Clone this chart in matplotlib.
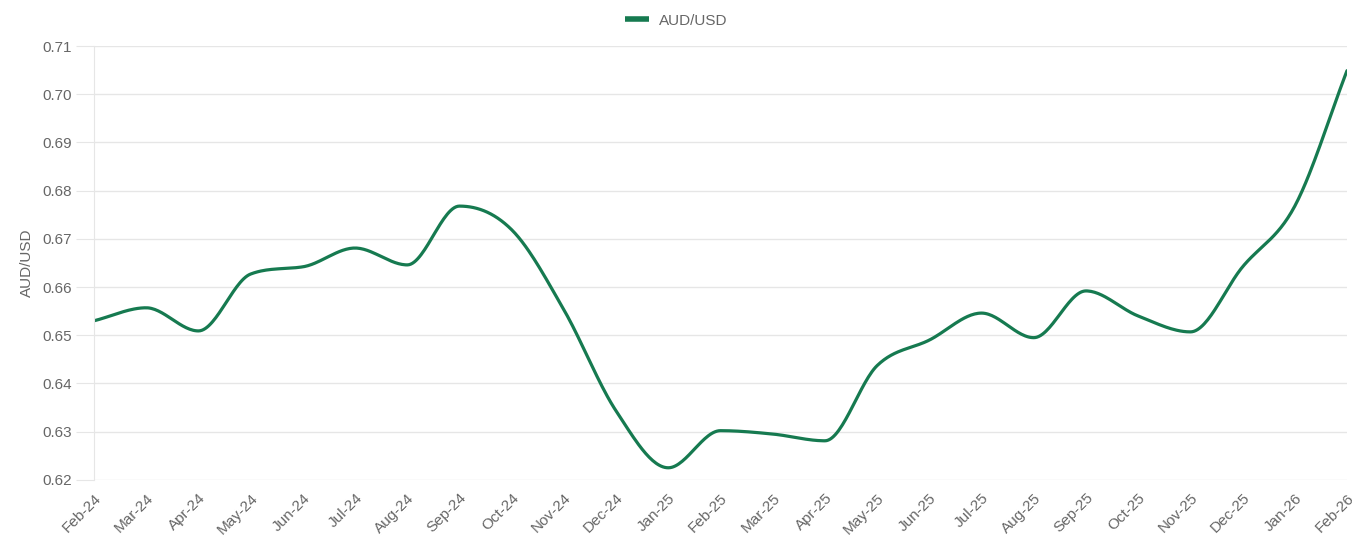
import numpy as np
import matplotlib
matplotlib.use('Agg')
import matplotlib.pyplot as plt

months = ['Feb-24', 'Mar-24', 'Apr-24', 'May-24', 'Jun-24', 'Jul-24', 'Aug-24', 'Sep-24',
          'Oct-24', 'Nov-24', 'Dec-24', 'Jan-25', 'Feb-25', 'Mar-25', 'Apr-25', 'May-25',
          'Jun-25', 'Jul-25', 'Aug-25', 'Sep-25', 'Oct-25', 'Nov-25', 'Dec-25', 'Jan-26', 'Feb-26']
audusd = [0.6530, 0.6557, 0.6509, 0.6627, 0.6642, 0.6681, 0.6646, 0.6768,
          0.6719, 0.6553, 0.6343, 0.6225, 0.6302, 0.6295, 0.6281, 0.6437,
          0.6490, 0.6546, 0.6495, 0.6592, 0.6540, 0.6507, 0.6642, 0.6768, 0.7049]

plt.rcParams['font.family'] = ['Liberation Sans', 'DejaVu Sans']
grey = '#666666'
green = '#167a50'


def monotone(x, y, n=30):
    # monotone cubic (fritsch-carlson) for drawing the smooth line
    x = np.asarray(x, float)
    y = np.asarray(y, float)
    h = np.diff(x)
    d = np.diff(y) / h
    m = np.zeros_like(y)
    m[0], m[-1] = d[0], d[-1]
    for i in range(1, len(y) - 1):
        if d[i - 1] * d[i] <= 0:
            m[i] = 0
        else:
            m[i] = (d[i - 1] + d[i]) / 2
    for i in range(len(d)):
        if d[i] == 0:
            m[i] = m[i + 1] = 0
            continue
        a, b = m[i] / d[i], m[i + 1] / d[i]
        s = a * a + b * b
        if s > 9:
            t = 3 / np.sqrt(s)
            m[i], m[i + 1] = t * a * d[i], t * b * d[i]
    xs, ys = [], []
    for i in range(len(d)):
        t = np.linspace(0, 1, n, endpoint=(i == len(d) - 1))
        h00 = 2 * t ** 3 - 3 * t ** 2 + 1
        h10 = t ** 3 - 2 * t ** 2 + t
        h01 = -2 * t ** 3 + 3 * t ** 2
        h11 = t ** 3 - t ** 2
        xs.append(x[i] + t * h[i])
        ys.append(h00 * y[i] + h10 * h[i] * m[i] + h01 * y[i + 1] + h11 * h[i] * m[i + 1])
    return np.concatenate(xs), np.concatenate(ys)


fig = plt.figure(figsize=(13.52, 5.49), dpi=100)
ax = fig.add_axes([0.0695, 0.126, 0.9268, 0.790])

xi = np.arange(len(months))
sx, sy = monotone(xi, audusd)
ax.plot(sx, sy, color=green, lw=2.3, label='AUD/USD', solid_capstyle='round')

ax.set_xlim(0, len(months) - 1)
ax.set_ylim(0.62, 0.71)
ax.set_yticks(np.arange(0.62, 0.7101, 0.01))
ax.set_yticklabels(['%.2f' % v for v in np.arange(0.62, 0.7101, 0.01)])
ax.set_xticks(xi)
ax.set_xticklabels(months, rotation=45, ha='right', rotation_mode='anchor')

ax.grid(axis='y', color='#e6e6e6', lw=1)
for s in ['top', 'right', 'bottom']:
    ax.spines[s].set_visible(False)
ax.spines['left'].set_color('#e6e6e6')
ax.tick_params(axis='y', colors='#e6e6e6', labelcolor=grey, labelsize=11, length=13, pad=3)
ax.tick_params(axis='x', length=0, labelcolor=grey, labelsize=11, pad=8)
ax.set_ylabel('AUD/USD', color=grey, fontsize=11, labelpad=6)

leg = fig.legend(loc='upper center', bbox_to_anchor=(0.5, 1.0), frameon=False,
                 fontsize=11, handlelength=1.6, handletextpad=0.6)
for t in leg.get_texts():
    t.set_color(grey)
for h in leg.get_lines():
    h.set_linewidth(4)
    h.set_solid_capstyle('butt')

fig.savefig('out.png', dpi=100)
